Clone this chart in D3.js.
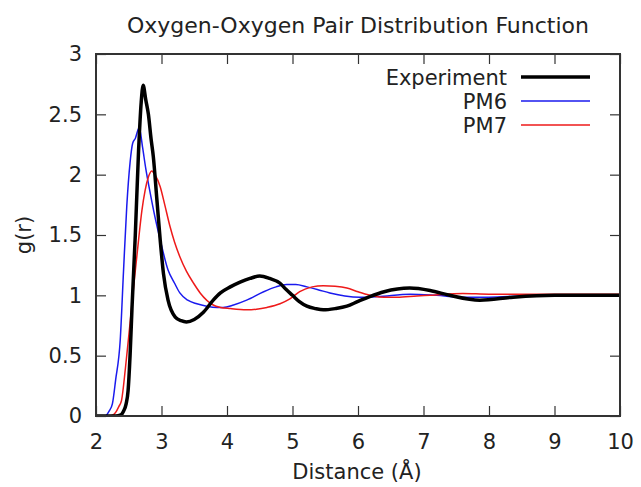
<!DOCTYPE html>
<html><head><meta charset="utf-8">
<script src="https://cdn.jsdelivr.net/npm/d3@7"></script>
<style>body{margin:0;background:#fff}svg{display:block}text{font-family:"DejaVu Sans",sans-serif;fill:#222}</style>
</head><body><svg id="c" width="641" height="487"></svg>
<script>
const title = "Oxygen-Oxygen Pair Distribution Function";
const xTicks = [2,3,4,5,6,7,8,9,10];
const yTicks = [0,0.5,1,1.5,2,2.5,3];
const seriesNames = ["Experiment","PM6","PM7"];
const seriesColors = ["#000000","#1a1aee","#ee1a1a"];

const expX = [2.0,2.3,2.38,2.42,2.46,2.49,2.52,2.55,2.6,2.65,2.69,2.72,2.76,2.8,2.84,2.875,2.93,2.98,3.03,3.1,3.21,3.3,3.38,3.5,3.64,3.79,3.9,4.05,4.2,4.35,4.5,4.65,4.81,4.9,5.0,5.1,5.22,5.35,5.47,5.65,5.83,6.0,6.18,6.4,6.79,7.1,7.4,7.86,8.37,9.0,9.5,10.0];
const expY = [0,0,0.01,0.04,0.1,0.21,0.5,0.9,1.5,2.2,2.6,2.74,2.62,2.5,2.3,2.15,1.79,1.46,1.18,0.96,0.82,0.79,0.78,0.8,0.86,0.96,1.02,1.07,1.11,1.14,1.16,1.14,1.1,1.05,1.0,0.95,0.91,0.89,0.88,0.89,0.91,0.95,0.99,1.03,1.06,1.04,1.0,0.96,0.985,1.0,1.0,1.0];

const pm6X = [2.0,2.14,2.2,2.25,2.3,2.37,2.42,2.47,2.52,2.56,2.6,2.66,2.71,2.76,2.82,2.9,2.98,3.1,3.2,3.28,3.4,3.54,3.69,3.85,3.94,4.1,4.3,4.56,4.75,4.91,5.05,5.22,5.4,5.57,5.8,6.03,6.3,6.8,7.2,7.6,8.0,8.5,9.0,10.0];
const pm6Y = [0,0,0.04,0.1,0.3,0.63,1.2,1.74,2.1,2.26,2.3,2.39,2.23,2.05,1.87,1.65,1.46,1.21,1.1,1.02,0.96,0.93,0.91,0.9,0.9,0.92,0.96,1.03,1.07,1.09,1.09,1.07,1.045,1.02,0.995,0.985,0.99,1.01,1.0,0.985,0.985,0.995,1.0,1.0];

const pm7X = [2.0,2.22,2.3,2.35,2.39,2.45,2.52,2.58,2.65,2.7,2.75,2.8,2.85,2.9,2.98,3.05,3.13,3.2,3.28,3.38,3.49,3.59,3.79,3.9,4.05,4.3,4.45,4.61,4.81,4.96,5.11,5.3,5.47,5.65,5.83,6.0,6.23,6.4,6.6,6.9,7.1,7.6,8.0,9.0,10.0];
const pm7Y = [0,0,0.03,0.08,0.13,0.4,0.77,1.1,1.46,1.7,1.87,1.98,2.03,2.0,1.9,1.75,1.57,1.44,1.32,1.2,1.1,1.02,0.92,0.9,0.89,0.88,0.885,0.9,0.93,0.97,1.03,1.07,1.08,1.075,1.06,1.03,0.995,0.985,0.985,0.995,1.0,1.015,1.01,1.01,1.01];

const series = [
  {name: seriesNames[0], color: seriesColors[0], width: 3.5, xs: expX, ys: expY},
  {name: seriesNames[1], color: seriesColors[1], width: 1.5, xs: pm6X, ys: pm6Y},
  {name: seriesNames[2], color: seriesColors[2], width: 1.5, xs: pm7X, ys: pm7Y}
];

const svg = d3.select("#c");
const m = {l:96, r:21, t:54, b:71};
const W = 641, H = 487;
const x = d3.scaleLinear().domain([2,10]).range([m.l, W-m.r]);
const y = d3.scaleLinear().domain([0,3]).range([H-m.b, m.t]);

const frameColor = "#333";
const tl = 10;
svg.append("g").attr("transform",`translate(0,${y(0)})`)
  .call(d3.axisBottom(x).tickValues(xTicks).tickSize(-tl).tickPadding(18).tickFormat(d3.format("d")))
  .call(g=>{g.select(".domain").remove();g.selectAll("line").attr("stroke",frameColor).attr("stroke-width",1.2);
    g.selectAll("text").attr("font-size",21).attr("fill","#222").attr("font-family","DejaVu Sans");});
svg.append("g").attr("transform",`translate(0,${y(3)})`)
  .call(d3.axisTop(x).tickValues(xTicks).tickSize(-tl).tickFormat(""))
  .call(g=>{g.select(".domain").remove();g.selectAll("line").attr("stroke",frameColor).attr("stroke-width",1.2);});
svg.append("g").attr("transform",`translate(${x(2)},0)`)
  .call(d3.axisLeft(y).tickValues(yTicks).tickSize(-tl).tickPadding(14).tickFormat(d3.format("")))
  .call(g=>{g.select(".domain").remove();g.selectAll("line").attr("stroke",frameColor).attr("stroke-width",1.2);
    g.selectAll("text").attr("font-size",21).attr("fill","#222").attr("font-family","DejaVu Sans");});
svg.append("g").attr("transform",`translate(${x(10)},0)`)
  .call(d3.axisRight(y).tickValues(yTicks).tickSize(-tl).tickFormat(""))
  .call(g=>{g.select(".domain").remove();g.selectAll("line").attr("stroke",frameColor).attr("stroke-width",1.2);});

const line = d3.line().x(d=>x(d[0])).y(d=>y(d[1])).curve(d3.curveMonotoneX);
svg.append("clipPath").attr("id","pc").append("rect")
  .attr("x",x(2)).attr("y",y(3)).attr("width",x(10)-x(2)).attr("height",y(0)-y(3));
const plot = svg.append("g").attr("clip-path","url(#pc)");
[series[1],series[2],series[0]].forEach(s=>{
  plot.append("path").datum(s.xs.map((v,i)=>[v,s.ys[i]]))
    .attr("fill","none").attr("stroke",s.color).attr("stroke-width",s.width)
    .attr("stroke-linejoin","round").attr("d",line);
});

svg.append("rect").attr("x",x(2)).attr("y",y(3)).attr("width",x(10)-x(2)).attr("height",y(0)-y(3))
  .attr("fill","none").attr("stroke",frameColor).attr("stroke-width",2);

const lg = svg.append("g");
series.forEach((s,i)=>{
  const yy = 77 + i*24;
  lg.append("text").attr("x",507).attr("y",yy+8).attr("text-anchor","end").attr("font-size",21).text(s.name);
  lg.append("line").attr("x1",521).attr("x2",590).attr("y1",yy).attr("y2",yy)
    .attr("stroke",s.color).attr("stroke-width",s.width);
});

svg.append("text").attr("x",358).attr("y",33).attr("text-anchor","middle").attr("font-size",22).text(title);
svg.append("text").attr("x",357).attr("y",479).attr("text-anchor","middle").attr("font-size",21).text("Distance (Å)");
svg.append("text").attr("transform",`translate(31,${(y(0)+y(3))/2}) rotate(-90)`).attr("text-anchor","middle").attr("font-size",21).text("g(r)");
</script></body></html>
